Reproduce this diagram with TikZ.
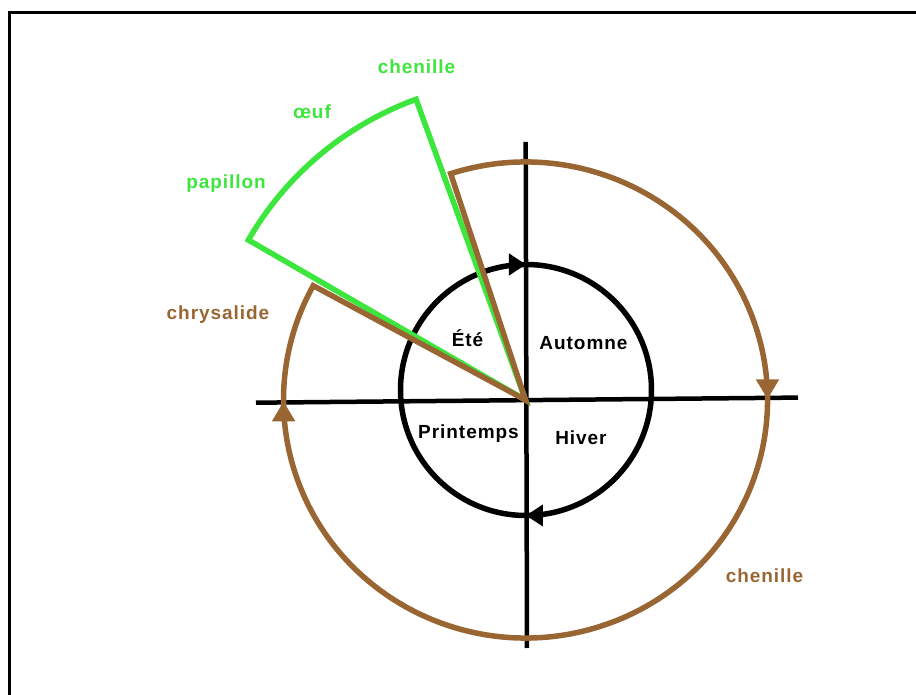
\documentclass[tikz,border=0pt]{standalone}
\usepackage{fontspec}
\usepackage{tikz}
\usetikzlibrary{arrows.meta,decorations.markings}
\newfontfamily\saisonfont[LetterSpace=5]{Liberation Sans Bold}

\definecolor{brun}{RGB}{153,102,51}
\definecolor{vert}{RGB}{60,230,60}

\tikzset{
  saison/.style={font=\saisonfont\fontsize{19}{22}\selectfont, inner sep=0pt, anchor=base},
  axe/.style={line width=4.5pt},
  cycle brun/.style={draw=brun, line width=5.5pt},
  cycle vert/.style={draw=vert, line width=5.5pt}
}

\begin{document}
\begin{tikzpicture}[x=1pt, y=1pt]
\useasboundingbox (-525.5,-295) rectangle (390.5,400);

% Frame
\draw[line width=3pt] (-516,-295) -- (-516,387.5) -- (390.5,387.5);

% Axes
\coordinate (O) at (0,0);
\draw[axe] (-269.5,-2.7) -- (272.5,2.4);
\draw[axe] (0.2,258) -- (1.5,-248);

% Seasons circle, turning clockwise
\draw[line width=5.5pt, postaction={decorate},
  decoration={markings,
    mark=at position 0.25 with {\arrow{Triangle[length=17pt,width=21pt]}},
    mark=at position 0.75 with {\arrow{Triangle[length=17pt,width=21pt]}}}]
  (-125,10) arc[start angle=180, end angle=-180, radius=125.5];

% Adult stage (green sector)
\draw[cycle vert] (O) -- (110:320) arc[start angle=110, end angle=150, radius=320] -- cycle;

% Larva stage (brown ring)
\draw[cycle brun] (O) -- (108:242 and 238)
  arc[start angle=108, end angle=-208.7, x radius=242, y radius=238] -- cycle;
\path[color=brun, line width=5.5pt, postaction={decorate},
  decoration={markings,
    mark=at position 0.341 with {\arrow{Triangle[length=20pt,width=22pt]}},
    mark=at position 0.909 with {\arrow{Triangle[length=20pt,width=22pt]}}}]
  (108:242 and 238) arc[start angle=108, end angle=-208.7, x radius=242, y radius=238];

% Seasons
\node[saison] (ete) at (-58,53) {Été};
\node[saison] (automne) at (58,50) {Automne};
\node[saison] (printemps) at (-57,-39) {Printemps};
\node[saison] (hiver) at (55.5,-45) {Hiver};

% Stages
\node[saison, text=vert] (chenilleA) at (-109,326) {chenille};
\node[saison, text=vert] (oeuf) at (-213.5,281) {œuf};
\node[saison, text=vert] (papillon) at (-299.5,211) {papillon};
\node[saison, text=brun] (chrysalide) at (-307.5,80) {chrysalide};
\node[saison, text=brun] (chenilleB) at (239,-183) {chenille};

\end{tikzpicture}
\end{document}
